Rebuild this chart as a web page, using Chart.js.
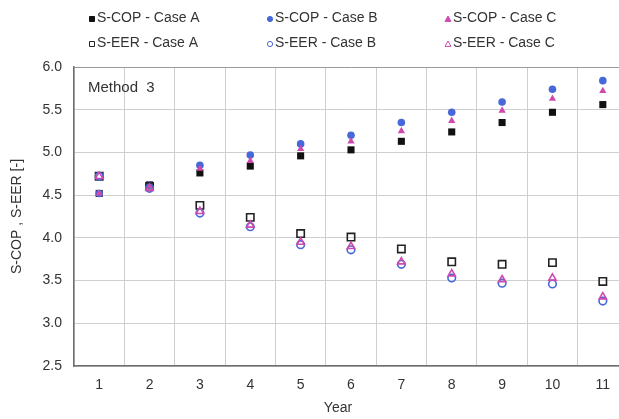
<!DOCTYPE html>
<html>
<head>
<meta charset="utf-8">
<script src="https://cdn.jsdelivr.net/npm/chart.js"></script>
<style>
  html, body { margin: 0; padding: 0; background: white; overflow: hidden; }
  #wrap { width: 640px; height: 419px; position: relative; }
</style>
</head>
<body>
<div id="wrap"><canvas id="chart"></canvas></div>
<script>
// seasonal performance per year, Method 3
const years = ['1', '2', '3', '4', '5', '6', '7', '8', '9', '10', '11'];
const copCaseA = [4.52, 4.62, 4.76, 4.84, 4.96, 5.03, 5.13, 5.24, 5.35, 5.47, 5.56];
const copCaseB = [4.52, 4.62, 4.85, 4.97, 5.10, 5.20, 5.35, 5.47, 5.59, 5.74, 5.84];
const copCaseC = [4.52, 4.61, 4.81, 4.90, 5.04, 5.13, 5.25, 5.37, 5.49, 5.63, 5.72];
const eerCaseA = [4.72, 4.60, 4.38, 4.24, 4.05, 4.01, 3.87, 3.72, 3.69, 3.71, 3.49];
const eerCaseB = [4.72, 4.58, 4.29, 4.13, 3.92, 3.86, 3.69, 3.53, 3.47, 3.46, 3.26];
const eerCaseC = [4.72, 4.58, 4.31, 4.15, 3.95, 3.90, 3.72, 3.58, 3.51, 3.53, 3.31];
const yTicks = [2.5, 3.0, 3.5, 4.0, 4.5, 5.0, 5.5, 6.0];

const FONT = "'Liberation Sans', Arial, sans-serif";
const BLACK = '#111111';
const BLUE = '#4768d8';
const PINK = '#cf4aae';

function series(label, data, style, color, filled, radius, order) {
  return {
    label, data, order,
    showLine: false,
    pointStyle: style,
    pointRadius: radius,
    pointHoverRadius: radius,
    pointBorderWidth: filled ? 0 : 1.6,
    pointBorderColor: color,
    pointBackgroundColor: filled ? color : 'rgba(255,255,255,0)',
    borderColor: color,
    backgroundColor: filled ? color : 'rgba(255,255,255,0)',
    legendStyle: style,
    legendFilled: filled
  };
}

const datasets = [
  series('S-COP - Case A', copCaseA, 'rect', BLACK, true, 5, 6),
  series('S-COP - Case B', copCaseB, 'circle', BLUE, true, 3.8, 5),
  series('S-COP - Case C', copCaseC, 'triangle', PINK, true, 4.2, 4),
  series('S-EER - Case A', eerCaseA, 'rect', '#222222', false, 5.2, 3),
  series('S-EER - Case B', eerCaseB, 'circle', BLUE, false, 3.8, 2),
  series('S-EER - Case C', eerCaseC, 'triangle', PINK, false, 4.2, 1)
];

// small legend marker
function marker(ctx, style, x, y, color, filled) {
  ctx.beginPath();
  if (style === 'rect') {
    ctx.rect(x - 2.5, y - 2.5, 5, 5);
  } else if (style === 'circle') {
    ctx.arc(x, y, 2.6, 0, Math.PI * 2);
  } else {
    ctx.moveTo(x, y - 3);
    ctx.lineTo(x + 3, y + 2.4);
    ctx.lineTo(x - 3, y + 2.4);
    ctx.closePath();
  }
  ctx.lineWidth = 1;
  ctx.strokeStyle = color;
  if (filled) {
    ctx.fillStyle = color;
    ctx.fill();
  }
  ctx.stroke();
}

// legend in a 3 x 2 grid above the plot, plus the panel note and axis title
const annotations = {
  id: 'annotations',
  afterDraw(chart) {
    const ctx = chart.ctx;
    const colX = [92, 270, 448];
    const rowY = [18, 43];
    ctx.save();
    ctx.font = '14px ' + FONT;
    ctx.textBaseline = 'middle';
    ctx.textAlign = 'left';
    chart.data.datasets.forEach((ds, i) => {
      const x = colX[i % 3];
      const y = rowY[Math.floor(i / 3)];
      marker(ctx, ds.legendStyle, x, y + 1, ds.pointBorderColor, ds.legendFilled);
      ctx.fillStyle = '#333333';
      ctx.fillText(ds.label, x + 5, y);
    });

    const area = chart.chartArea;
    ctx.font = '15px ' + FONT;
    ctx.fillStyle = '#333333';
    ctx.fillText('Method  3', area.left + 14, area.top + 21);

    ctx.font = '14px ' + FONT;
    ctx.textAlign = 'center';
    ctx.fillText('Year', 338, 408);
    ctx.restore();
  }
};

new Chart(document.getElementById('chart'), {
  type: 'line',
  data: { labels: years, datasets },
  plugins: [annotations],
  options: {
    responsive: true,
    maintainAspectRatio: false,
    animation: false,
    layout: { padding: { top: 67, right: 12, bottom: 0, left: 0 } },
    plugins: {
      legend: { display: false },
      tooltip: { enabled: false }
    },
    scales: {
      x: {
        type: 'category',
        offset: true,
        afterFit(scale) { scale.height = 53; },
        grid: { offset: true, color: '#cfcfcf', lineWidth: 1, drawTicks: false },
        border: { display: true, color: '#6e6e6e', width: 1.5 },
        ticks: { color: '#333333', font: { family: FONT, size: 14 }, padding: 11 }
      },
      y: {
        min: 2.5,
        max: 6.0,
        afterFit(scale) { scale.width = 74; },
        afterBuildTicks(scale) { scale.ticks = yTicks.map(v => ({ value: v })); },
        grid: {
          color: ctx => (ctx.tick && ctx.tick.value === 6 ? '#9a9a9a' : '#cfcfcf'),
          lineWidth: 1,
          drawTicks: false
        },
        border: { display: true, color: '#6e6e6e', width: 1.5 },
        ticks: {
          color: '#333333',
          font: { family: FONT, size: 14 },
          padding: 12,
          callback: v => Number(v).toFixed(1)
        },
        title: {
          display: true,
          text: 'S-COP , S-EER [-]',
          color: '#333333',
          font: { family: FONT, size: 14 },
          padding: { top: 9, bottom: 0 }
        }
      }
    }
  }
});
</script>
</body>
</html>
